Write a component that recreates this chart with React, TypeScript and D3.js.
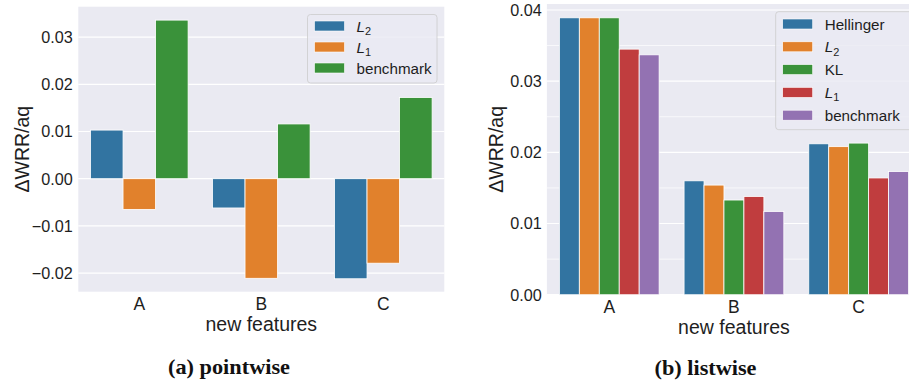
import React from "react";
import * as d3 from "d3";

const categories = ["A", "B", "C"];

// (a) pointwise
const pointSeries = ["L2", "L1", "benchmark"];
const pointL2 = [0.0103, -0.0062, -0.0212];
const pointL1 = [-0.0065, -0.0211, -0.0179];
const pointBench = [0.0336, 0.0116, 0.0172];
const pointTicks = [-0.02, -0.01, 0.0, 0.01, 0.02, 0.03];

// (b) listwise
const listSeries = ["Hellinger", "L2", "KL", "L1", "benchmark"];
const listHellinger = [0.0389, 0.016, 0.0212];
const listL2 = [0.0389, 0.0154, 0.0208];
const listKL = [0.0389, 0.0133, 0.0213];
const listL1 = [0.0345, 0.0138, 0.0164];
const listBench = [0.0337, 0.0117, 0.0173];
const listTicks = [0.0, 0.01, 0.02, 0.03, 0.04];
const listMinor = [0.005, 0.015, 0.025, 0.035];

const pointColors = ["#3274a1", "#e1812c", "#3a923a"];
const listColors = ["#3274a1", "#e1812c", "#3a923a", "#c03d3e", "#9372b2"];

const SANS = "'Liberation Sans', Arial, sans-serif";
const SERIF = "'Liberation Serif', 'Times New Roman', serif";
const INK = "#1e1e1e";

function Label({ name, x, y, size }: { name: string; x: number; y: number; size: number }) {
  const m = name.match(/^L(\d)$/);
  if (m) {
    return (
      <text x={x} y={y} fontSize={size} fontFamily={SANS} fill={INK}>
        <tspan fontStyle="italic">L</tspan>
        <tspan fontSize={size * 0.72} dy={size * 0.22}>{m[1]}</tspan>
      </text>
    );
  }
  return (
    <text x={x} y={y} fontSize={size} fontFamily={SANS} fill={INK}>
      {name}
    </text>
  );
}

type PanelProps = {
  x0: number; x1: number; yTop: number; yBot: number;
  yDomain: [number, number];
  ticks: number[]; minor: number[];
  series: string[]; values: number[][]; colors: string[];
  tickFmt: (v: number) => string;
  yTickRight: number; yLabelX: number; xTickY: number; xLabelY: number;
  legend: { x: number; y: number; w: number; h: number; rowY0: number; rowDy: number };
  caption: string; capX: number; capY: number; capLen: number;
  clipId: string;
};

function Panel(p: PanelProps) {
  const x = d3.scaleBand<string>().domain(categories).range([p.x0, p.x1]).paddingInner(0.2).paddingOuter(0.1);
  const xs = d3.scaleBand<string>().domain(p.series).range([0, x.bandwidth()]);
  const y = d3.scaleLinear().domain(p.yDomain).range([p.yBot, p.yTop]);
  const y0 = y(0);
  return (
    <g>
      <defs>
        <clipPath id={p.clipId}>
          <rect x={p.x0} y={p.yTop} width={p.x1 - p.x0} height={p.yBot - p.yTop} />
        </clipPath>
      </defs>
      <rect x={p.x0} y={p.yTop} width={p.x1 - p.x0} height={p.yBot - p.yTop} fill="#eaeaf2" />
      {p.minor.map((t) => (
        <line key={"m" + t} x1={p.x0} x2={p.x1} y1={y(t)} y2={y(t)} stroke="#ffffff" strokeWidth={0.7} />
      ))}
      {p.ticks.map((t) => (
        <line key={"g" + t} x1={p.x0} x2={p.x1} y1={y(t)} y2={y(t)} stroke="#ffffff" strokeWidth={1.2} />
      ))}
      <g clipPath={`url(#${p.clipId})`}>
        {p.series.map((s, si) =>
          categories.map((c, ci) => {
            const v = p.values[si][ci];
            const yy = y(v);
            return (
              <rect
                key={s + c}
                x={(x(c) as number) + (xs(s) as number)}
                y={Math.min(yy, y0)}
                width={xs.bandwidth()}
                height={Math.abs(yy - y0)}
                fill={p.colors[si]}
                stroke="#ffffff"
                strokeWidth={0.8}
              />
            );
          })
        )}
      </g>
      {p.ticks.map((t) => (
        <text key={"t" + t} x={p.yTickRight} y={y(t) + 5.8} textAnchor="end" fontSize={16.2} fontFamily={SANS} fill={INK}>
          {p.tickFmt(t)}
        </text>
      ))}
      {categories.map((c) => (
        <text key={"x" + c} x={(x(c) as number) + x.bandwidth() / 2} y={p.xTickY} textAnchor="middle" fontSize={17.5} fontFamily={SANS} fill={INK}>
          {c}
        </text>
      ))}
      <text x={(x("B") as number) + x.bandwidth() / 2} y={p.xLabelY} textAnchor="middle" fontSize={19.5} fontFamily={SANS} fill={INK}>
        new features
      </text>
      <text transform={`translate(${p.yLabelX},${(p.yTop + p.yBot) / 2}) rotate(-90)`} textAnchor="middle" fontSize={19.5} fontFamily={SANS} fill={INK}>
        ΔWRR/aq
      </text>
      <rect x={p.legend.x} y={p.legend.y} width={p.legend.w} height={p.legend.h} rx={3} fill="#eaeaf2" fillOpacity={0.8} stroke="#cccccc" strokeWidth={0.8} />
      {p.series.map((s, si) => {
        const cy = p.legend.rowY0 + si * p.legend.rowDy;
        return (
          <g key={"l" + s}>
            <rect x={p.legend.x + 7} y={cy - 5} width={30} height={10} fill={p.colors[si]} stroke="#ffffff" strokeWidth={0.6} />
            <Label name={s} x={p.legend.x + 49} y={cy + 5.5} size={15.2} />
          </g>
        );
      })}
      <text x={p.capX} y={p.capY} textAnchor="middle" fontSize={21} fontWeight="bold" fontFamily={SERIF} fill="#111" textLength={p.capLen} lengthAdjust="spacingAndGlyphs">
        {p.caption}
      </text>
    </g>
  );
}

export default function App() {
  const fmtSigned = (v: number) => (v < 0 ? "\u2212" + Math.abs(v).toFixed(2) : v.toFixed(2));
  return (
    <svg width={909} height={386} style={{ position: "absolute", left: 0, top: 0, background: "#ffffff" }}>
      <rect x={0} y={0} width={909} height={386} fill="#ffffff" />
      <Panel
        x0={78.3} x1={444.3} yTop={6.7} yBot={291.7}
        yDomain={[-0.02394, 0.03644]}
        ticks={pointTicks} minor={[]}
        series={pointSeries}
        values={[pointL2, pointL1, pointBench]}
        colors={pointColors}
        tickFmt={fmtSigned}
        yTickRight={72.7} yLabelX={29} xTickY={310} xLabelY={331}
        legend={{ x: 307.5, y: 14.5, w: 129.5, h: 68.5, rowY0: 26, rowDy: 21 }}
        caption="(a) pointwise" capX={229} capY={374} capLen={122}
        clipId="clipA"
      />
      <Panel
        x0={546.9} x1={921} yTop={4} yBot={294.7}
        yDomain={[0, 0.04084]}
        ticks={listTicks} minor={listMinor}
        series={listSeries}
        values={[listHellinger, listL2, listKL, listL1, listBench]}
        colors={listColors}
        tickFmt={fmtSigned}
        yTickRight={541.7} yLabelX={503} xTickY={313} xLabelY={334}
        legend={{ x: 775.7, y: 11.7, w: 150, h: 118, rowY0: 24, rowDy: 22.8 }}
        caption="(b) listwise" capX={705.5} capY={375} capLen={102}
        clipId="clipB"
      />
    </svg>
  );
}
